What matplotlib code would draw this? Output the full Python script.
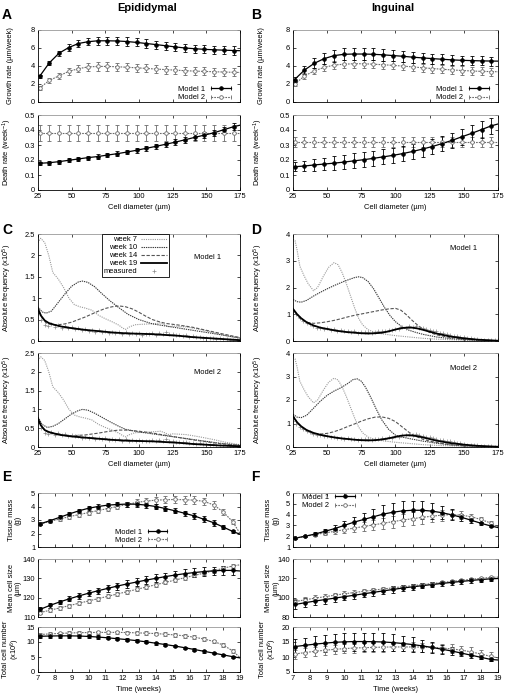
import numpy as np
import matplotlib
matplotlib.use('Agg')
import matplotlib.pyplot as plt
from matplotlib.lines import Line2D
from matplotlib.legend_handler import HandlerLine2D
from matplotlib.ticker import FuncFormatter

plt.rcParams['font.family'] = ['Liberation Sans', 'DejaVu Sans']
plt.rcParams['mathtext.default'] = 'regular'
FS = 5.4
GREY = '#6a6a6a'

# ---------------- data: growth / death rates (A, B) ----------------
ab_x = [26.2, 33.4, 40.6, 47.8, 55.0, 62.2, 69.4, 76.6, 83.8, 91.0, 98.2,
        105.4, 112.6, 119.8, 127.0, 134.2, 141.4, 148.6, 155.8, 163.0, 170.2]
ab_x_end = 175

epi_growth_m1 = [2.85, 4.35, 5.42, 6.05, 6.5, 6.7, 6.8, 6.8, 6.78, 6.72, 6.62,
                 6.5, 6.38, 6.25, 6.12, 6.0, 5.92, 5.85, 5.8, 5.76, 5.72]
epi_growth_m1_err = [0.2, 0.25, 0.3, 0.35, 0.4, 0.42, 0.45, 0.45, 0.45, 0.45, 0.45,
                     0.45, 0.45, 0.45, 0.45, 0.45, 0.45, 0.45, 0.45, 0.45, 0.45]
epi_growth_m1_end = 5.7
epi_growth_m2 = [1.55, 2.4, 2.9, 3.4, 3.7, 3.9, 3.95, 3.95, 3.92, 3.86, 3.8,
                 3.73, 3.66, 3.6, 3.54, 3.48, 3.43, 3.4, 3.36, 3.33, 3.3]
epi_growth_m2_err = [0.2, 0.3, 0.35, 0.4, 0.42, 0.45, 0.45, 0.45, 0.45, 0.45, 0.45,
                     0.45, 0.45, 0.45, 0.45, 0.45, 0.45, 0.45, 0.45, 0.45, 0.45]
epi_growth_m2_end = 3.28

epi_death_m1 = [0.178, 0.182, 0.189, 0.198, 0.207, 0.216, 0.223, 0.233, 0.242, 0.253, 0.265,
                0.278, 0.291, 0.305, 0.319, 0.335, 0.351, 0.366, 0.382, 0.402, 0.422]
epi_death_m1_err = [0.012, 0.012, 0.013, 0.013, 0.014, 0.014, 0.015, 0.015, 0.016, 0.016, 0.017,
                    0.017, 0.018, 0.018, 0.019, 0.019, 0.02, 0.02, 0.021, 0.021, 0.022]
epi_death_m1_end = 0.432
epi_death_m2 = [0.38] * 21
epi_death_m2_err = [0.055] * 21
epi_death_m2_end = 0.38

ing_growth_m1 = [2.5, 3.55, 4.3, 4.82, 5.15, 5.3, 5.33, 5.33, 5.3, 5.24, 5.16,
                 5.08, 4.98, 4.9, 4.82, 4.75, 4.68, 4.63, 4.6, 4.57, 4.55]
ing_growth_m1_err = [0.25, 0.45, 0.55, 0.6, 0.65, 0.65, 0.65, 0.65, 0.65, 0.65, 0.62,
                     0.6, 0.6, 0.58, 0.56, 0.55, 0.54, 0.52, 0.52, 0.5, 0.5]
ing_growth_m1_end = 4.54
ing_growth_m2 = [2.0, 2.88, 3.47, 3.84, 4.1, 4.2, 4.25, 4.25, 4.2, 4.14, 4.07,
                 3.99, 3.9, 3.8, 3.72, 3.64, 3.56, 3.5, 3.45, 3.4, 3.38]
ing_growth_m2_err = [0.2, 0.3, 0.35, 0.4, 0.42, 0.45, 0.45, 0.45, 0.45, 0.45, 0.45,
                     0.45, 0.45, 0.45, 0.45, 0.45, 0.45, 0.45, 0.45, 0.45, 0.45]
ing_growth_m2_end = 3.36

ing_death_m1 = [0.155, 0.16, 0.167, 0.173, 0.179, 0.186, 0.194, 0.202, 0.211, 0.221, 0.231,
                0.243, 0.257, 0.273, 0.29, 0.31, 0.331, 0.355, 0.378, 0.403, 0.428]
ing_death_m1_err = [0.03, 0.035, 0.04, 0.04, 0.045, 0.045, 0.05, 0.05, 0.05, 0.05, 0.05,
                    0.05, 0.05, 0.05, 0.05, 0.05, 0.05, 0.052, 0.055, 0.055, 0.055]
ing_death_m1_end = 0.44
ing_death_m2 = [0.32] * 21
ing_death_m2_err = [0.035] * 21
ing_death_m2_end = 0.32

# ---------------- data: size distributions (C, D), x10^5 ----------------
epi_w7_x = [25, 27, 30, 33, 36, 40, 44, 48, 52, 56, 60, 65, 70, 75, 80, 85, 88, 90, 93,
            97, 102, 108, 113, 116, 119, 122, 125, 135, 145, 155, 165, 175]
epi_w7_y = [2.3, 2.4, 2.3, 2.0, 1.6, 1.45, 1.25, 1.0, 0.85, 0.8, 0.77, 0.72, 0.6, 0.52, 0.45,
            0.37, 0.3, 0.27, 0.33, 0.38, 0.39, 0.4, 0.41, 0.42, 0.38, 0.33, 0.35, 0.33, 0.27,
            0.2, 0.12, 0.06]

epi_m1_w10_x = [25, 28, 31, 35, 40, 45, 50, 55, 58, 62, 67, 72, 78, 85, 92, 100, 110, 120,
                130, 140, 150, 160, 175]
epi_m1_w10_y = [0.8, 0.68, 0.65, 0.7, 0.9, 1.1, 1.28, 1.38, 1.4, 1.37, 1.27, 1.12, 0.95, 0.78,
                0.62, 0.5, 0.4, 0.35, 0.3, 0.25, 0.2, 0.15, 0.07]
epi_m1_w14_x = [25, 28, 31, 35, 40, 45, 50, 55, 60, 65, 70, 75, 80, 85, 90, 95, 100, 105,
                110, 115, 120, 130, 140, 150, 160, 175]
epi_m1_w14_y = [0.78, 0.55, 0.42, 0.38, 0.38, 0.4, 0.44, 0.5, 0.56, 0.63, 0.7, 0.76, 0.8,
                0.82, 0.8, 0.75, 0.67, 0.58, 0.5, 0.45, 0.41, 0.37, 0.32, 0.25, 0.18, 0.08]
epi_w19_x = [25, 27, 30, 33, 37, 42, 50, 60, 70, 80, 90, 100, 110, 120, 130, 140, 150, 160, 175]
epi_m1_w19_y = [0.75, 0.6, 0.48, 0.42, 0.38, 0.34, 0.3, 0.26, 0.23, 0.2, 0.18, 0.17, 0.16,
                0.14, 0.12, 0.09, 0.07, 0.05, 0.02]

epi_m2_w10_x = [25, 28, 32, 36, 40, 45, 50, 55, 58, 62, 67, 72, 78, 85, 90, 100, 110, 120,
                130, 140, 150, 160, 175]
epi_m2_w10_y = [0.8, 0.6, 0.52, 0.55, 0.62, 0.75, 0.88, 0.97, 1.0, 0.98, 0.9, 0.8, 0.68,
                0.55, 0.47, 0.4, 0.35, 0.3, 0.25, 0.2, 0.15, 0.1, 0.05]
epi_m2_w14_x = [25, 28, 32, 36, 42, 50, 60, 70, 78, 85, 90, 100, 110, 120, 130, 140, 150,
                160, 175]
epi_m2_w14_y = [0.78, 0.52, 0.4, 0.35, 0.32, 0.3, 0.32, 0.37, 0.42, 0.45, 0.45, 0.42, 0.37,
                0.31, 0.25, 0.19, 0.14, 0.09, 0.04]
epi_m2_w19_y = [0.75, 0.58, 0.45, 0.4, 0.36, 0.32, 0.28, 0.25, 0.22, 0.19, 0.17, 0.16, 0.15,
                0.13, 0.11, 0.08, 0.06, 0.04, 0.02]

meas_x = [25, 27.5, 30, 32.5, 35, 37.5, 40, 42.5, 45, 47.5, 50, 52.5, 55, 57.5, 60, 62.5,
          65, 67.5, 70, 72.5, 75, 77.5, 80, 82.5, 85, 87.5, 90, 92.5, 95, 97.5, 100, 102.5,
          105, 107.5, 110, 112.5, 115, 117.5, 120, 122.5, 125, 127.5, 130, 132.5, 135, 137.5,
          140, 142.5, 145, 147.5, 150, 152.5, 155, 157.5, 160, 162.5, 165, 167.5, 170, 172.5, 175]
epi_meas = [0.66, 0.5, 0.38, 0.35, 0.39, 0.33, 0.37, 0.31, 0.35, 0.3, 0.32, 0.28, 0.3, 0.25,
            0.27, 0.24, 0.26, 0.22, 0.25, 0.2, 0.23, 0.19, 0.22, 0.18, 0.21, 0.17, 0.2, 0.16,
            0.19, 0.17, 0.18, 0.15, 0.17, 0.16, 0.18, 0.15, 0.19, 0.16, 0.2, 0.17, 0.16, 0.13,
            0.14, 0.12, 0.13, 0.1, 0.11, 0.09, 0.1, 0.08, 0.08, 0.06, 0.07, 0.05, 0.06, 0.04,
            0.05, 0.03, 0.03, 0.02, 0.02]

ing_w7_x = [25, 26.5, 28, 30, 33, 36, 40, 43, 47, 51, 55, 58, 61, 64, 67, 70, 73, 76, 80,
            85, 90, 100, 110, 120, 130, 140, 150, 160, 175]
ing_w7_y = [3.8, 3.75, 3.4, 2.8, 2.45, 2.15, 1.88, 2.0, 2.4, 2.75, 2.93, 2.85, 2.55, 2.15,
            1.7, 1.25, 0.85, 0.6, 0.42, 0.32, 0.27, 0.2, 0.15, 0.1, 0.07, 0.05, 0.03, 0.02, 0.01]

ing_m1_w10_x = [25, 28, 31, 35, 40, 45, 50, 55, 60, 65, 70, 73, 76, 80, 84, 88, 92, 96, 100,
                105, 110, 115, 120, 130, 140, 150, 160, 175]
ing_m1_w10_y = [1.55, 1.47, 1.45, 1.52, 1.68, 1.82, 1.95, 2.07, 2.18, 2.28, 2.37, 2.4, 2.37,
                2.22, 1.95, 1.6, 1.25, 0.95, 0.72, 0.52, 0.4, 0.32, 0.25, 0.15, 0.09, 0.05,
                0.03, 0.01]
ing_wk_x = [25, 28, 31, 35, 40, 45, 50, 55, 60, 65, 70, 75, 80, 85, 90, 95, 100, 104, 108,
            112, 116, 120, 125, 130, 140, 150, 160, 175]
ing_m1_w14_y = [1.2, 0.95, 0.8, 0.7, 0.66, 0.68, 0.72, 0.77, 0.83, 0.9, 0.96, 1.01, 1.06,
                1.11, 1.16, 1.2, 1.22, 1.15, 0.98, 0.78, 0.6, 0.45, 0.32, 0.23, 0.13, 0.07,
                0.04, 0.01]
ing_m1_w19_y = [1.2, 1.0, 0.85, 0.7, 0.58, 0.5, 0.45, 0.4, 0.36, 0.33, 0.31, 0.29, 0.28,
                0.29, 0.31, 0.36, 0.43, 0.48, 0.5, 0.5, 0.47, 0.42, 0.35, 0.28, 0.17, 0.1,
                0.05, 0.01]

ing_m2_w10_x = [25, 28, 31, 35, 40, 45, 50, 55, 60, 65, 69, 72, 75, 78, 82, 86, 90, 95, 100,
                105, 110, 120, 130, 140, 150, 160, 175]
ing_m2_w10_y = [1.4, 1.27, 1.25, 1.35, 1.65, 1.95, 2.2, 2.38, 2.52, 2.7, 2.87, 2.9, 2.8,
                2.55, 2.1, 1.6, 1.15, 0.75, 0.5, 0.42, 0.36, 0.25, 0.16, 0.09, 0.05, 0.03, 0.01]
ing_m2_w14_x = [25, 28, 31, 35, 40, 45, 50, 55, 60, 65, 70, 75, 80, 85, 90, 95, 100, 105,
                110, 115, 120, 125, 130, 140, 150, 160, 175]
ing_m2_w14_y = [1.35, 1.05, 0.85, 0.68, 0.57, 0.55, 0.58, 0.65, 0.75, 0.87, 0.98, 1.1, 1.2,
                1.27, 1.28, 1.22, 1.08, 0.85, 0.62, 0.45, 0.33, 0.25, 0.19, 0.1, 0.05, 0.03, 0.01]
ing_m2_w19_y = [1.3, 1.05, 0.88, 0.72, 0.6, 0.52, 0.46, 0.41, 0.37, 0.34, 0.31, 0.29, 0.28,
                0.29, 0.32, 0.37, 0.43, 0.48, 0.5, 0.49, 0.46, 0.41, 0.34, 0.27, 0.17, 0.1,
                0.05, 0.01]

ing_meas = [1.1, 1.0, 0.85, 0.75, 0.66, 0.62, 0.55, 0.5, 0.5, 0.45, 0.48, 0.42, 0.44, 0.38,
            0.4, 0.36, 0.38, 0.33, 0.36, 0.31, 0.35, 0.32, 0.34, 0.3, 0.35, 0.36, 0.38, 0.36,
            0.42, 0.4, 0.46, 0.44, 0.52, 0.5, 0.55, 0.52, 0.55, 0.5, 0.48, 0.44, 0.42, 0.38,
            0.36, 0.3, 0.3, 0.25, 0.24, 0.2, 0.18, 0.15, 0.14, 0.1, 0.1, 0.07, 0.07, 0.05,
            0.04, 0.03, 0.03, 0.02, 0.01]

# ---------------- data: time courses (E, F) ----------------
t_weeks = [7.14, 7.71, 8.29, 8.86, 9.43, 10.0, 10.57, 11.14, 11.71, 12.29, 12.86,
           13.43, 14.0, 14.57, 15.14, 15.71, 16.29, 16.86, 17.43, 18.0, 18.57]
t_end = 19

epi_mass_m1 = [2.72, 2.95, 3.2, 3.45, 3.68, 3.87, 4.0, 4.1, 4.15, 4.18, 4.17,
               4.1, 4.0, 3.85, 3.68, 3.5, 3.3, 3.05, 2.8, 2.48, 2.15]
epi_mass_m1_err = [0.1, 0.12, 0.14, 0.15, 0.16, 0.17, 0.17, 0.18, 0.18, 0.18, 0.18,
                   0.18, 0.18, 0.18, 0.18, 0.18, 0.2, 0.22, 0.22, 0.15, 0.08]
epi_mass_m1_end = 1.95
epi_mass_m2 = [2.7, 2.9, 3.07, 3.25, 3.4, 3.55, 3.7, 3.85, 4.0, 4.15, 4.3,
               4.4, 4.47, 4.5, 4.52, 4.5, 4.47, 4.38, 4.12, 3.6, 2.87]
epi_mass_m2_err = [0.1, 0.12, 0.14, 0.15, 0.16, 0.17, 0.18, 0.2, 0.2, 0.22, 0.24,
                   0.25, 0.26, 0.27, 0.28, 0.28, 0.28, 0.28, 0.28, 0.25, 0.18]
epi_mass_m2_end = 2.0

epi_size_m1 = [114.0, 116.0, 117.8, 119.4, 120.9, 122.3, 123.6, 124.8, 126.0, 127.1, 128.1,
               129.1, 130.0, 130.9, 131.7, 132.4, 133.0, 133.5, 133.9, 134.1, 134.1]
epi_size_m1_err = [1.0, 1.1, 1.2, 1.3, 1.4, 1.5, 1.6, 1.7, 1.8, 1.9, 2.0,
                   2.0, 2.1, 2.1, 2.2, 2.2, 2.2, 2.2, 2.2, 2.2, 2.2]
epi_size_m1_end = 133.8
epi_size_m2 = [112.3, 113.5, 114.7, 115.9, 117.1, 118.3, 119.5, 120.7, 121.9, 123.1, 124.3,
               125.5, 126.7, 127.9, 129.1, 130.3, 131.5, 132.7, 133.9, 135.2, 136.4]
epi_size_m2_err = [1.0] * 21
epi_size_m2_end = 137.0

epi_num_m1 = [11.9, 12.0, 12.05, 12.05, 12.0, 11.85, 11.65, 11.4, 11.1, 10.8, 10.45,
              10.05, 9.6, 9.15, 8.65, 8.1, 7.5, 6.9, 6.3, 5.7, 5.1]
epi_num_m1_err = [0.6, 0.6, 0.6, 0.6, 0.6, 0.6, 0.6, 0.55, 0.55, 0.5, 0.5,
                  0.5, 0.5, 0.45, 0.45, 0.4, 0.4, 0.4, 0.35, 0.35, 0.3]
epi_num_m1_end = 4.7
epi_num_m2 = [12.5, 12.7, 12.85, 13.0, 13.1, 13.15, 13.2, 13.2, 13.2, 13.15, 13.05,
              12.95, 12.8, 12.6, 12.35, 12.05, 11.6, 11.0, 10.2, 9.0, 7.0]
epi_num_m2_err = [0.6] * 21
epi_num_m2_end = 4.8

ing_mass_m1 = [1.82, 2.0, 2.2, 2.45, 2.7, 3.0, 3.3, 3.55, 3.8, 4.05, 4.22,
               4.35, 4.4, 4.4, 4.32, 4.18, 3.98, 3.75, 3.48, 3.2, 2.95]
ing_mass_m1_err = [0.08, 0.1, 0.15, 0.2, 0.3, 0.4, 0.5, 0.6, 0.7, 0.8, 0.85,
                   0.9, 0.9, 0.85, 0.75, 0.6, 0.5, 0.35, 0.25, 0.15, 0.1]
ing_mass_m1_end = 2.8
ing_mass_m2 = [1.82, 1.98, 2.15, 2.3, 2.45, 2.6, 2.75, 2.9, 3.05, 3.2, 3.35,
               3.5, 3.62, 3.75, 3.85, 3.95, 4.0, 3.95, 3.8, 3.55, 3.22]
ing_mass_m2_err = [0.08, 0.1, 0.15, 0.2, 0.25, 0.3, 0.35, 0.4, 0.45, 0.5, 0.55,
                   0.6, 0.6, 0.6, 0.55, 0.5, 0.45, 0.35, 0.25, 0.2, 0.15]
ing_mass_m2_end = 2.85

ing_size_m1 = [93.0, 94.8, 96.5, 98.0, 99.5, 101.0, 102.5, 104.0, 105.5, 107.0, 108.5,
               110.0, 111.2, 112.4, 113.6, 114.7, 115.8, 116.8, 117.8, 118.7, 119.5]
ing_size_m1_err = [4.5, 4.4, 4.3, 4.2, 4.0, 3.9, 3.8, 3.6, 3.5, 3.3, 3.2,
                   3.0, 2.9, 2.8, 2.6, 2.5, 2.4, 2.3, 2.2, 2.1, 2.0]
ing_size_m1_end = 119.8
ing_size_m2 = [96.0, 97.8, 99.5, 101.0, 102.5, 104.0, 105.3, 106.6, 107.8, 109.0, 110.2,
               111.3, 112.4, 113.5, 114.6, 115.7, 116.8, 117.9, 119.0, 120.0, 121.0]
ing_size_m2_err = [3.0, 3.0, 2.9, 2.8, 2.7, 2.6, 2.5, 2.4, 2.3, 2.2, 2.1,
                   2.0, 1.9, 1.9, 1.8, 1.8, 1.7, 1.7, 1.6, 1.6, 1.5]
ing_size_m2_end = 121.3

ing_num_m1 = [13.5, 13.9, 14.3, 14.6, 14.9, 15.05, 15.15, 15.15, 15.1, 15.0, 14.8,
              14.5, 14.15, 13.7, 13.2, 12.6, 12.0, 11.3, 10.6, 9.9, 9.2]
ing_num_m1_err = [2.5, 2.6, 2.7, 2.8, 2.9, 3.0, 3.0, 3.0, 3.0, 2.9, 2.8,
                  2.6, 2.4, 2.1, 1.8, 1.5, 1.3, 1.1, 0.9, 0.7, 0.6]
ing_num_m1_end = 9.0
ing_num_m2 = [11.0, 11.5, 11.9, 12.25, 12.55, 12.8, 13.0, 13.1, 13.2, 13.3, 13.35,
              13.35, 13.35, 13.3, 13.2, 13.0, 12.7, 12.3, 11.7, 11.0, 10.2]
ing_num_m2_err = [1.5] * 21
ing_num_m2_end = 9.7

# ---------------- figure ----------------
fig = plt.figure(figsize=(5.06, 6.96), dpi=100)
fig.patch.set_facecolor('white')


def add_ax(l, t, r, b):
    # pixel box -> figure fraction
    return fig.add_axes([l / 506, 1 - b / 696, (r - l) / 506, (b - t) / 696])


def style(ax):
    ax.tick_params(direction='in', length=2.5, width=0.5, top=True, right=True,
                   labelsize=FS, pad=2)
    for s in ax.spines.values():
        s.set_linewidth(0.6)
    ax.spines['top'].set_color('#999999')
    ax.yaxis.set_major_formatter(FuncFormatter(lambda v, p: '%g' % round(v, 6)))


M1 = dict(color='black', ls='-', lw=0.9)
M2 = dict(color=GREY, ls=(0, (1.5, 1)), lw=0.8)


def plot_models(ax, x, y1, e1, end1, y2, e2, end2, xend):
    ax.plot(list(x) + [xend], list(y2) + [end2], **M2)
    ax.errorbar(x, y2, yerr=e2, fmt='o', ms=2.6, mfc='white', mec=GREY, mew=0.6,
                ecolor=GREY, elinewidth=0.6, capsize=1.6, capthick=0.6)
    ax.plot(list(x) + [xend], list(y1) + [end1], **M1)
    ax.errorbar(x, y1, yerr=e1, fmt='o', ms=2.6, mfc='black', mec='black', mew=0.6,
                ecolor='black', elinewidth=0.6, capsize=1.6, capthick=0.6)


def model_legend(ax, **kw):
    handles, hmap = [], {}
    for st, mfc in ((M1, 'black'), (M2, 'white')):
        cap = Line2D([], [], marker='|', ms=3.5, mew=0.6, mec=st['color'], **st)
        dot = Line2D([], [], ls='none', marker='o', ms=2.6, mfc=mfc, mec=st['color'], mew=0.6)
        hmap[cap] = HandlerLine2D(numpoints=2)
        hmap[dot] = HandlerLine2D(numpoints=1)
        handles.append((cap, dot))
    ax.legend(handles, ['Model 1', 'Model 2'], handler_map=hmap, markerfirst=False,
              frameon=False, fontsize=FS, handlelength=3.2, handletextpad=0.5,
              labelspacing=0.12, borderpad=0.1, borderaxespad=0, **kw)


LEFT = (38, 240)
RIGHT = (293, 498)
rate_rows = [(30, 102), (115, 190)]
freq_rows = [(234, 341), (353, 447)]
time_rows = [(493, 547), (559, 617), (627, 672)]
# x position (axes fraction) of the right edge of rotated y labels
ylab_one = {LEFT: -0.118, RIGHT: -0.137}
ylab_two = {LEFT: -0.08, RIGHT: -0.068}

# titles and panel letters
fig.text(147 / 506, 1 - 8 / 696, 'Epididymal', ha='center', va='center', fontsize=8, fontweight='bold')
fig.text(393 / 506, 1 - 8 / 696, 'Inguinal', ha='center', va='center', fontsize=8, fontweight='bold')
for lab, px, py in [('A', 2, 15), ('B', 251, 15), ('C', 2, 230), ('D', 251, 230),
                    ('E', 2, 477), ('F', 251, 477)]:
    fig.text(px / 506, 1 - py / 696, lab, ha='left', va='center', fontsize=10, fontweight='bold')

# ---- A / B ----
rate_sets = [
    (LEFT, epi_growth_m1, epi_growth_m1_err, epi_growth_m1_end, epi_growth_m2, epi_growth_m2_err,
     epi_growth_m2_end, epi_death_m1, epi_death_m1_err, epi_death_m1_end, epi_death_m2,
     epi_death_m2_err, epi_death_m2_end),
    (RIGHT, ing_growth_m1, ing_growth_m1_err, ing_growth_m1_end, ing_growth_m2, ing_growth_m2_err,
     ing_growth_m2_end, ing_death_m1, ing_death_m1_err, ing_death_m1_end, ing_death_m2,
     ing_death_m2_err, ing_death_m2_end),
]
for lr, g1, ge1, gn1, g2, ge2, gn2, d1, de1, dn1, d2, de2, dn2 in rate_sets:
    l, r = lr
    ax = add_ax(l, rate_rows[0][0], r, rate_rows[0][1])
    plot_models(ax, ab_x, g1, ge1, gn1, g2, ge2, gn2, ab_x_end)
    ax.set_xlim(25, 175)
    ax.set_ylim(0, 8)
    ax.set_yticks([0, 2, 4, 6, 8])
    ax.set_xticks([25, 50, 75, 100, 125, 150, 175])
    ax.set_xticklabels([])
    style(ax)
    ax.set_ylabel('Growth rate (µm/week)', fontsize=FS)
    ax.yaxis.set_label_coords(ylab_one[lr], 0.5)
    model_legend(ax, loc='lower right', bbox_to_anchor=(0.97, 0.0))

    ax = add_ax(l, rate_rows[1][0], r, rate_rows[1][1])
    plot_models(ax, ab_x, d1, de1, dn1, d2, de2, dn2, ab_x_end)
    ax.set_xlim(25, 175)
    ax.set_ylim(0, 0.5)
    ax.set_yticks([0, 0.1, 0.2, 0.3, 0.4, 0.5])
    ax.set_xticks([25, 50, 75, 100, 125, 150, 175])
    style(ax)
    ax.set_ylabel('Death rate (week$^{-1}$)', fontsize=FS)
    ax.yaxis.set_label_coords(ylab_one[lr], 0.5)
    ax.set_xlabel('Cell diameter (µm)', fontsize=FS, labelpad=3)

# ---- C / D ----
W7 = dict(color='#9a9a9a', ls=(0, (1, 1)), lw=0.8)
W10 = dict(color='#3a3a3a', ls=(0, (1.2, 0.8)), lw=0.8)
W14 = dict(color='#555555', ls=(0, (3, 1.5)), lw=0.8)
W19 = dict(color='black', ls='-', lw=1.3)
MEAS = dict(ls='none', marker='+', ms=2.6, mew=0.5, color='#8a8a8a')

freq_sets = [
    (LEFT, 2.5, [0, 0.5, 1, 1.5, 2, 2.5], epi_w7_x, epi_w7_y, epi_meas, [
        ('Model 1', epi_m1_w10_x, epi_m1_w10_y, epi_m1_w14_x, epi_m1_w14_y, epi_w19_x, epi_m1_w19_y,
         (0.84, 0.78)),
        ('Model 2', epi_m2_w10_x, epi_m2_w10_y, epi_m2_w14_x, epi_m2_w14_y, epi_w19_x, epi_m2_w19_y,
         (0.84, 0.79))]),
    (RIGHT, 4, [0, 1, 2, 3, 4], ing_w7_x, ing_w7_y, ing_meas, [
        ('Model 1', ing_m1_w10_x, ing_m1_w10_y, ing_wk_x, ing_m1_w14_y, ing_wk_x, ing_m1_w19_y,
         (0.83, 0.86)),
        ('Model 2', ing_m2_w10_x, ing_m2_w10_y, ing_m2_w14_x, ing_m2_w14_y, ing_wk_x, ing_m2_w19_y,
         (0.83, 0.83))]),
]
for col, (lr, ymax, yt, w7x, w7y, meas, models) in enumerate(freq_sets):
    for row, (name, x10, y10, x14, y14, x19, y19, tpos) in enumerate(models):
        ax = add_ax(lr[0], freq_rows[row][0], lr[1], freq_rows[row][1])
        ax.plot(w7x, w7y, label='week 7', **W7)
        ax.plot(x10, y10, label='week 10', **W10)
        ax.plot(x14, y14, label='week 14', **W14)
        ax.plot(meas_x, meas, label='measured', **MEAS)
        ax.plot(x19, y19, label='week 19', **W19)
        ax.set_xlim(25, 175)
        ax.set_ylim(0, ymax)
        ax.set_yticks(yt)
        ax.set_xticks([25, 50, 75, 100, 125, 150, 175])
        style(ax)
        ax.text(tpos[0], tpos[1], name, transform=ax.transAxes, ha='center', va='center', fontsize=FS)
        ax.set_ylabel('Absolute frequency (x10$^5$)', fontsize=FS)
        ax.yaxis.set_label_coords(ylab_one[lr], 0.5)
        if row == 0:
            ax.set_xticklabels([])
        else:
            ax.set_xlabel('Cell diameter (µm)', fontsize=FS, labelpad=3)
        if row == 0 and col == 0:
            h, lb = ax.get_legend_handles_labels()
            order = [0, 1, 2, 4, 3]
            leg = ax.legend([h[i] for i in order], [lb[i] for i in order], loc='upper left',
                            bbox_to_anchor=(0.315, 1.0), markerfirst=False, fontsize=FS,
                            frameon=True, fancybox=False, edgecolor='black', framealpha=1,
                            handlelength=3.5, handletextpad=0.5, labelspacing=0.1,
                            borderpad=0.25, borderaxespad=0)
            leg.get_frame().set_linewidth(0.6)

# ---- E / F ----
time_sets = [
    (LEFT, [
        (epi_mass_m1, epi_mass_m1_err, epi_mass_m1_end, epi_mass_m2, epi_mass_m2_err, epi_mass_m2_end,
         (1, 5), [1, 2, 3, 4, 5], 'Tissue mass\n(g)'),
        (epi_size_m1, epi_size_m1_err, epi_size_m1_end, epi_size_m2, epi_size_m2_err, epi_size_m2_end,
         (110, 140), [110, 120, 130, 140], 'Mean cell size\n(µm)'),
        (epi_num_m1, epi_num_m1_err, epi_num_m1_end, epi_num_m2, epi_num_m2_err, epi_num_m2_end,
         (0, 15), [0, 5, 10, 15], 'Total cell number\n(x10$^6$)')]),
    (RIGHT, [
        (ing_mass_m1, ing_mass_m1_err, ing_mass_m1_end, ing_mass_m2, ing_mass_m2_err, ing_mass_m2_end,
         (1, 6), [1, 2, 3, 4, 5, 6], 'Tissue mass\n(g)'),
        (ing_size_m1, ing_size_m1_err, ing_size_m1_end, ing_size_m2, ing_size_m2_err, ing_size_m2_end,
         (80, 140), [80, 100, 120, 140], 'Mean cell size\n(µm)'),
        (ing_num_m1, ing_num_m1_err, ing_num_m1_end, ing_num_m2, ing_num_m2_err, ing_num_m2_end,
         (5, 20), [5, 10, 15, 20], 'Total cell number\n(x10$^6$)')]),
]
for col, (lr, rows) in enumerate(time_sets):
    for row, (y1, e1, n1, y2, e2, n2, ylim, yt, ylab) in enumerate(rows):
        ax = add_ax(lr[0], time_rows[row][0], lr[1], time_rows[row][1])
        plot_models(ax, t_weeks, y1, e1, n1, y2, e2, n2, t_end)
        ax.set_xlim(7, 19)
        ax.set_ylim(*ylim)
        ax.set_yticks(yt)
        ax.set_xticks(range(7, 20))
        style(ax)
        ax.set_ylabel(ylab, fontsize=FS, linespacing=1.0)
        ax.yaxis.set_label_coords(ylab_two[lr], 0.5)
        if row < 2:
            ax.set_xticklabels([])
        else:
            ax.set_xlabel('Time (weeks)', fontsize=FS, labelpad=3)
        if row == 0:
            if col == 0:
                model_legend(ax, loc='lower right', bbox_to_anchor=(0.655, 0.04))
            else:
                model_legend(ax, loc='upper left', bbox_to_anchor=(0.04, 1.0))

fig.savefig('out.png', dpi=100)
